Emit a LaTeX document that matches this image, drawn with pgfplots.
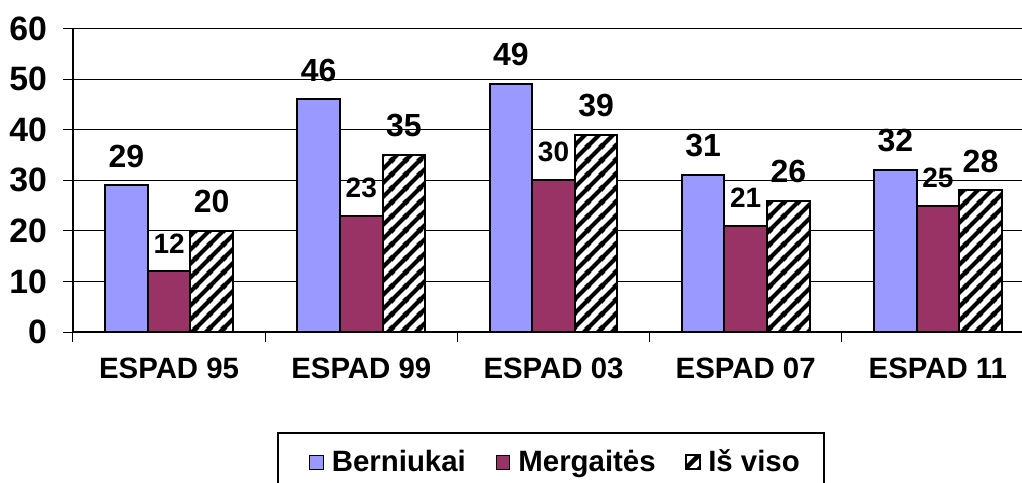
\documentclass[border=0pt]{standalone}
\usepackage{fontspec}
\setmainfont{Liberation Sans}
\usepackage{pgfplots}
\pgfplotsset{compat=1.18}
\usetikzlibrary{patterns}

\definecolor{bern}{HTML}{9999FF}
\definecolor{merg}{HTML}{993366}

% wide upward diagonal hatch
\pgfdeclarepatternformonly{widediag}{\pgfqpoint{0pt}{0pt}}{\pgfqpoint{7pt}{7pt}}{\pgfqpoint{7pt}{7pt}}{%
  \pgfsetlinewidth{2.2pt}%
  \pgfpathmoveto{\pgfqpoint{-1pt}{-1pt}}\pgfpathlineto{\pgfqpoint{8pt}{8pt}}%
  \pgfpathmoveto{\pgfqpoint{-1pt}{6pt}}\pgfpathlineto{\pgfqpoint{1pt}{8pt}}%
  \pgfpathmoveto{\pgfqpoint{6pt}{-1pt}}\pgfpathlineto{\pgfqpoint{8pt}{1pt}}%
  \pgfusepath{stroke}}

% legend square; the first one carries the extra left padding of the box
\pgfplotsset{
  legsq/.style={legend image code/.code={\draw[##1, line width=0.5pt] (0pt,-3.4pt) rectangle (6.8pt,3.4pt);}},
  legsqfirst/.style={legend image code/.code={\path (-5.5pt,0pt); \draw[##1, line width=0.5pt] (0pt,-3.4pt) rectangle (6.8pt,3.4pt);}},
}

\begin{document}
\begin{tikzpicture}
\begin{axis}[
    scale only axis,
    width=480.5pt, height=151.7pt,
    xmin=-0.5, xmax=4.5, ymin=0, ymax=60,
    ybar=0pt, bar width=21.3pt,
    axis x line*=bottom, axis y line*=left,
    axis line style={line width=0.6pt},
    ytick={0,10,...,60},
    ymajorgrids, grid style={black, line width=0.5pt},
    xtick={-0.5,0.5,...,4.5},
    x tick label as interval,
    xticklabels={ESPAD 95,ESPAD 99,ESPAD 03,ESPAD 07,ESPAD 11},
    tick align=outside, major tick length=5pt,
    tick style={black, line width=0.5pt},
    yticklabel style={font=\fontsize{16.9}{19}\selectfont\bfseries, xshift=-4.5pt},
    xticklabel style={font=\fontsize{14.7}{17}\selectfont\bfseries, yshift=-4.5pt},
    /pgf/number format/assume math mode=true,
    nodes near coords,
    every node near coord/.append style={font=\fontsize{16}{18}\selectfont\bfseries, inner sep=0pt, yshift=8.5pt},
    legend columns=3,
    legend style={at={(0.2123,-0.3296)}, anchor=north west, draw=black, line width=0.75pt,
        inner xsep=10pt, inner ysep=6.5pt,
        font=\fontsize{14.7}{17}\selectfont\bfseries,
        nodes={inner xsep=2pt},
        /tikz/every odd column/.append style={column sep=2pt},
        /tikz/every even column/.append style={column sep=13pt}},
    legsq,
]
\addplot[fill=bern, draw=black, line width=1pt, legsqfirst]
    coordinates {(0,29) (1,46) (2,49) (3,31) (4,32)};
\addplot[fill=merg, draw=black, line width=1pt,
    every node near coord/.append style={font=\fontsize{14}{16}\selectfont\bfseries}]
    coordinates {(0,12) (1,23) (2,30) (3,21) (4,25)};
\addplot[pattern=widediag, preaction={fill=white}, draw=black, line width=1pt]
    coordinates {(0,20) (1,35) (2,39) (3,26) (4,28)};
\legend{Berniukai, Mergaitės, Iš viso}
\end{axis}
\pgfresetboundingbox
\path[use as bounding box] ([shift={(-36.5pt,-75pt)}]current axis.south west)
    rectangle ([shift={(474.5pt,166pt)}]current axis.south west);
\end{tikzpicture}
\end{document}
